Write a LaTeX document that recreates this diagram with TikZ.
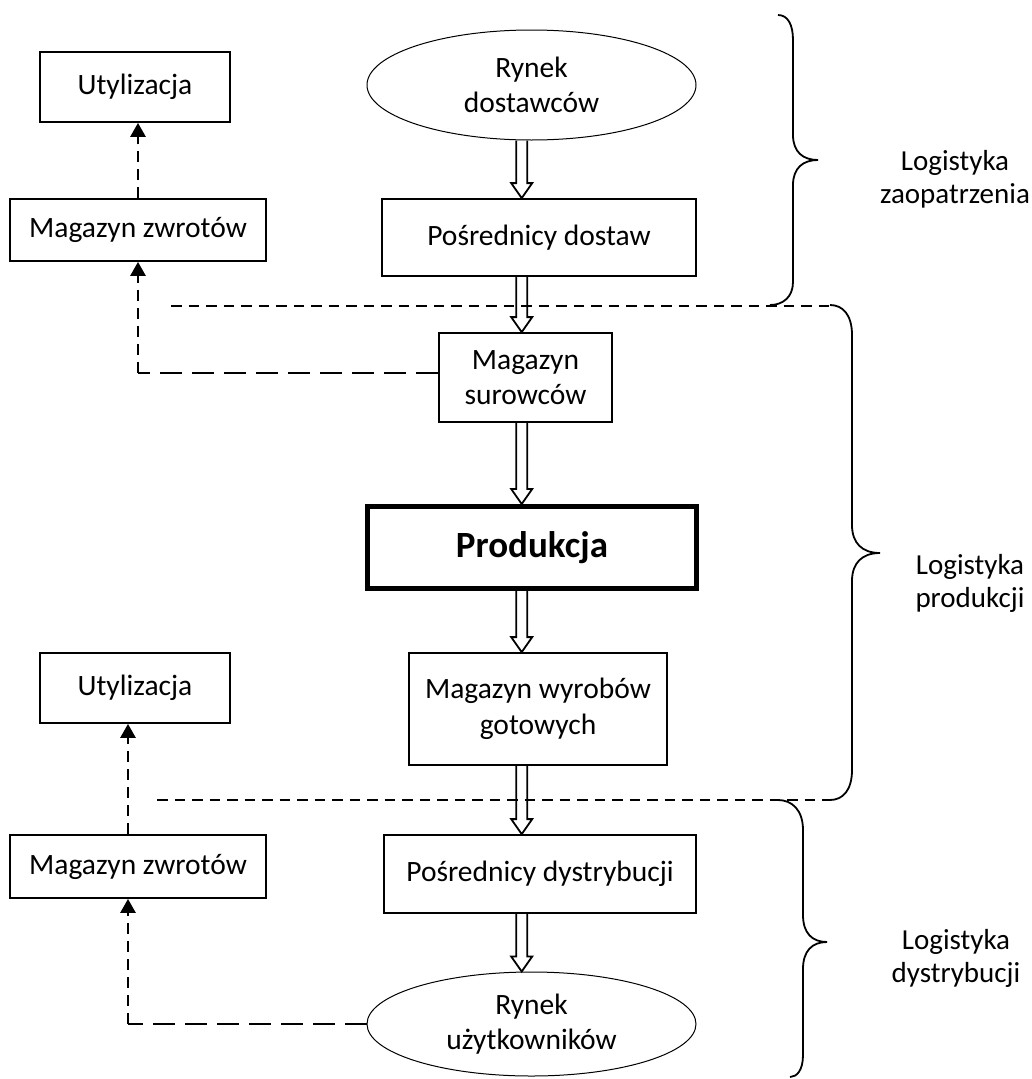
\documentclass[tikz,border=0pt]{standalone}
\usepackage{fontspec}
\setmainfont{Carlito}
\usetikzlibrary{shapes.geometric,arrows.meta,calc}
\newcommand\nodefont{\fontsize{29.5}{35.5}\selectfont}
\newcommand\boldfont{\fontsize{37}{44}\selectfont\bfseries}
\newcommand\blockarr[2]{%
  \draw[blk] let \p1=(#1.south), \p2=(#2.north), \p3=(axis) in
    (\x3-5.5pt,\y1) -- (\x3-5.5pt,\y2+15pt) -- (\x3-10.5pt,\y2+15pt) -- (\x3,\y2)
    -- (\x3+10.5pt,\y2+15pt) -- (\x3+5.5pt,\y2+15pt) -- (\x3+5.5pt,\y1);}
\begin{document}
\begin{tikzpicture}[x=1pt,y=-1pt,
  box/.style={draw, line width=1.8pt, rectangle, inner sep=0pt, align=center, font=\nodefont},
  oval/.style={draw, line width=1pt, ellipse, inner sep=0pt, align=center, font=\nodefont},
  blk/.style={draw, line width=1.8pt, line join=miter},
  darrow/.style={line width=2.8pt, dash pattern=on 11pt off 7pt, -{Triangle[width=15pt,length=14pt]}},
  dlong/.style={line width=2.8pt, dash pattern=on 22pt off 10pt},
  sep/.style={line width=1.6pt, dash pattern=on 10.5pt off 7pt},
  brace/.style={line width=1.8pt},
  lbl/.style={align=center, inner sep=0pt, font=\fontsize{29}{33}\selectfont}]
\useasboundingbox (0,0) rectangle (1032,1079);
\fill[white] (0,0) rectangle (1032,1079);
\coordinate (axis) at (521.7,0);

% nodes
\node[box, minimum width=190, minimum height=70] (ut1) at (135,87) {Utylizacja};
\node[box, minimum width=256, minimum height=62] (mz1) at (138,230) {Magazyn zwrotów};
\node[oval, minimum width=329, minimum height=110] (rd) at (531.5,85) {Rynek\\dostawców};
\node[box, minimum width=314, minimum height=77] (pd) at (539,237.5) {Pośrednicy dostaw};
\node[box, minimum width=173, minimum height=89] (ms) at (525.5,377.5) {Magazyn\\surowców};
\node[box, line width=5pt, minimum width=329, minimum height=82, font=\boldfont] (pr) at (532,547.5) {Produkcja};
\node[box, minimum width=258, minimum height=112] (mw) at (538,709) {Magazyn wyrobów\\gotowych};
\node[box, minimum width=190, minimum height=70] (ut2) at (135,688) {Utylizacja};
\node[box, minimum width=256, minimum height=63] (mz2) at (138,866.5) {Magazyn zwrotów};
\node[box, minimum width=312, minimum height=78] (pdy) at (540,874) {Pośrednicy dystrybucji};
\node[oval, minimum width=329, minimum height=104] (ru) at (531.5,1024) {Rynek\\użytkowników};

% labels
\node[lbl] (l1) at (955,179) {Logistyka\\zaopatrzenia};
\node[lbl] (l2) at (970,583) {Logistyka\\produkcji};
\node[lbl] (l3) at (956,958) {Logistyka\\dystrybucji};

% separators
\coordinate (s1a) at (171,306); \coordinate (s1b) at (830,306);
\coordinate (s2a) at (157,800); \coordinate (s2b) at (830,800);
\draw[sep] (s1a) -- (s1b);
\draw[sep] (s2a) -- (s2b);

% braces
\draw[brace] (778,15) .. controls (788,15) and (793,25) .. (793,40) -- (793,135)
  .. controls (793,152) and (803,160) .. (818,160)
  .. controls (803,160) and (793,168) .. (793,185) -- (793,282)
  .. controls (793,297) and (783,305) .. (770,305);
\draw[brace] (830,305) .. controls (843,305) and (852,315) .. (852,335) -- (852,525)
  .. controls (852,543) and (862,553) .. (880,553)
  .. controls (862,553) and (852,563) .. (852,581) -- (852,770)
  .. controls (852,790) and (843,800) .. (830,800);
\draw[brace] (778,800) .. controls (792,800) and (803,810) .. (803,830) -- (803,915)
  .. controls (803,933) and (812,942) .. (827,942)
  .. controls (812,942) and (803,951) .. (803,969) -- (803,1055)
  .. controls (803,1070) and (797,1077) .. (790,1077);

% block arrows
\blockarr{rd}{pd}
\blockarr{pd}{ms}
\blockarr{ms}{pr}
\blockarr{pr}{mw}
\blockarr{mw}{pdy}
\blockarr{pdy}{ru}

% return flows
\coordinate (c1) at (138,373);
\draw[dlong] ([yshift=4.5pt]ms.west) -- (c1);
\draw[darrow] (c1) -- (mz1.south);
\draw[darrow] (mz1.north) -- (mz1.north |- ut1.south);
\coordinate (c2) at (128,1024);
\draw[dlong] (ru.west) -- (c2);
\draw[darrow] (c2) -- (c2 |- mz2.south);
\draw[darrow] ([xshift=-10pt]mz2.north) -- ([xshift=-10pt]mz2.north |- ut2.south);
\end{tikzpicture}
\end{document}
